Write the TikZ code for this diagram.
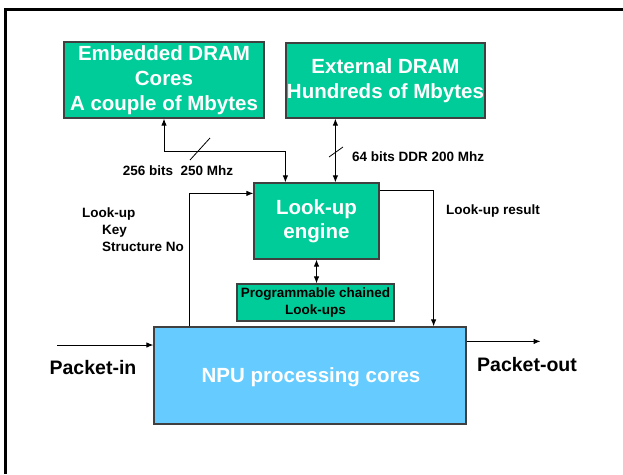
\documentclass[tikz,border=0pt]{standalone}
\usepackage{fontspec}
\setmainfont{Liberation Sans}
\usetikzlibrary{arrows.meta,calc}
\definecolor{boxgreen}{RGB}{0,204,153}
\definecolor{boxblue}{RGB}{102,204,255}
\tikzset{
  box/.style={draw=black!75, line width=1.2pt, inner sep=0pt, align=center, text=white},
  big/.style={font=\fontsize{20.5}{25}\selectfont\bfseries},
  small/.style={font=\fontsize{13.5}{16}\selectfont\bfseries, inner sep=0pt},
  med/.style={font=\fontsize{19.5}{23}\selectfont\bfseries, inner sep=0pt},
  conn/.style={line width=1pt, -{Latex[length=7pt,width=5.5pt]}},
  conn2/.style={line width=1pt, {Latex[length=7pt,width=5.5pt]}-{Latex[length=7pt,width=5.5pt]}},
  slash/.style={line width=0.8pt}
}
\begin{document}
\begin{tikzpicture}[x=1pt,y=-1pt]
\useasboundingbox (0,0) rectangle (623,474);
% frame
\fill[black] (4,8) rectangle (623,11);
\fill[black] (4,8) rectangle (7,474);
% boxes
\node[box, big, fill=boxgreen, minimum width=200, minimum height=76] (emb) at (164,80)
  {Embedded DRAM\\Cores\\A couple of Mbytes};
\node[box, big, fill=boxgreen, minimum width=199, minimum height=75] (ext) at (385.5,80.5)
  {External DRAM\\Hundreds of Mbytes};
\node[box, big, fill=boxgreen, minimum width=125, minimum height=76, font=\fontsize{20.5}{24}\selectfont\bfseries] (look) at (316.5,221)
  {Look-up\\engine};
\node[box, fill=boxgreen, minimum width=157, minimum height=37, text=black, font=\fontsize{13.5}{17}\selectfont\bfseries] (prog) at (315.5,302.5)
  {Programmable chained\\Look-ups};
\node[box, fill=boxblue, minimum width=312, minimum height=97] (npu) at (310,375.5) {};
\node[big, text=white, inner sep=0pt] (npulbl) at (311,377) {NPU processing cores};
% connectors
\draw[conn2] (emb.south) -- ([yshift=-33]emb.south) -| ([xshift=32]look.north west);
\draw[slash] (190,160) -- (210,138);
\node[small, anchor=center] (l256) at (178,171) {256 bits\ \ 250 Mhz};
\draw[conn2] ([xshift=50]ext.south west) -- ([xshift=82]look.north west);
\draw[slash] (329,157) -- (343,147);
\node[small, anchor=west] (l64) at (352,157) {64 bits DDR 200 Mhz};
\draw[conn] ([yshift=-8]look.north east) -| ([xshift=-33]npu.north east);
\node[small, anchor=west] (lres) at (446,211) {Look-up result};
\draw[conn] ([xshift=36]npu.north west) |- ([yshift=-11]look.north west);
\node[small, anchor=west] (lkey1) at (82,214) {Look-up};
\node[small, anchor=west] (lkey2) at (102,231) {Key};
\node[small, anchor=west] (lkey3) at (102,247) {Structure No};
\draw[conn2] (look.south) -- (look.south |- prog.north);
\coordinate (pin) at (57,345);
\draw[conn] (pin) -- (pin -| npu.west);
\node[med, anchor=center] (lpin) at (93,368) {Packet-in};
\draw[conn] ([yshift=-15]npu.north east) -- ++(74,0) coordinate (pout);
\node[med, anchor=center] (lpout) at (527,365) {Packet-out};
\end{tikzpicture}
\end{document}
